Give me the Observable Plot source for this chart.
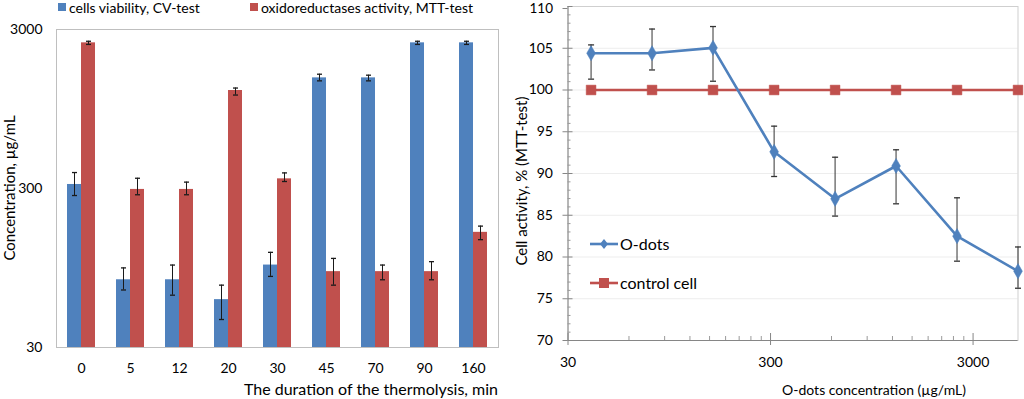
<!DOCTYPE html>
<html>
<head>
<meta charset="utf-8">
<script src="https://cdn.jsdelivr.net/npm/d3@7"></script>
<script src="https://cdn.jsdelivr.net/npm/@observablehq/plot@0.6"></script>
<style>
  html, body { margin: 0; padding: 0; background: #fff; }
  #root { position: relative; width: 1024px; height: 399px; overflow: hidden; font-family: Lato, "Open Sans", sans-serif; color: #000; }
  #root svg { position: absolute; top: 0; }
  .t { position: absolute; white-space: nowrap; line-height: 1.15; }
  .sw { position: absolute; }
</style>
</head>
<body>
<div id="root"></div>
<script>
// ---------- Left chart data ----------
const categories = ["0", "5", "12", "20", "30", "45", "70", "90", "160"];
const cvValues = [318, 80, 80, 60, 99, 1489, 1489, 2473, 2473];
const cvLow    = [271, 69, 64, 45, 84, 1426, 1426, 2417, 2417];
const cvHigh   = [378, 95, 99, 74, 119, 1570, 1548, 2530, 2530];
const mttValues = [2473, 296, 296, 1240, 345, 90, 90, 90, 159];
const mttLow    = [2417, 274, 274, 1161, 332, 74, 80, 80, 143];
const mttHigh   = [2530, 348, 329, 1285, 376, 109, 99, 104, 174];
const leftTicks = [30, 300, 3000];
const leftDomain = [30, 3000];

// ---------- Right chart data ----------
const concentrations = [39, 78, 156, 312.5, 625, 1250, 2500, 5000];
const oDots     = [104.4, 104.4, 105.05, 92.6, 86.97, 90.9, 82.5, 78.3];
const oDotsHigh = [105.4, 107.3, 107.6, 95.67, 91.95, 92.84, 87.09, 81.2];
const oDotsLow  = [101.3, 102.4, 101.05, 89.64, 84.9, 86.37, 79.5, 76.26];
const control   = [100, 100, 100, 100, 100, 100, 100, 100];
const rightXDomain = [30, 5000];
const rightXTicks = [30, 300, 3000];
const rightXMinor = [60, 90, 120, 150, 180, 210, 240, 270, 600, 900, 1200, 1500, 1800, 2100, 2400, 2700];
const rightYDomain = [70, 110];
const rightYTicks = [70, 75, 80, 85, 90, 95, 100, 105, 110];
const rightYMinor = d3.range(71, 110).filter(v => v % 5 !== 0);

const BLUE = "#4F81BD", RED = "#C0504D";

// horizontal cap symbol for error bars
const capSymbol = {
  draw(context, size) {
    const h = Math.sqrt(size / Math.PI);
    context.moveTo(-h, 0);
    context.lineTo(h, 0);
  }
};

const root = document.getElementById("root");

// ---------- Left chart ----------
const barRows = categories.map((c, i) => ({
  cat: c, cv: cvValues[i], cvLo: cvLow[i], cvHi: cvHigh[i],
  mtt: mttValues[i], mttLo: mttLow[i], mttHi: mttHigh[i]
}));
const baseline = leftDomain[0];

const left = Plot.plot({
  width: 512, height: 399,
  marginTop: 29, marginBottom: 52, marginLeft: 56, marginRight: 14,
  style: { fontFamily: "Lato, sans-serif", fontSize: "14px", color: "#000", background: "transparent", overflow: "visible" },
  x: { type: "band", domain: categories, paddingInner: 0.43, paddingOuter: 0.2, label: null },
  y: { type: "log", domain: leftDomain, label: null },
  marks: [
    Plot.frame({ stroke: "#BFBFBF" }),
    Plot.barY(barRows, { x: "cat", y1: baseline, y2: "cv", fill: BLUE, insetRight: 14 }),
    Plot.barY(barRows, { x: "cat", y1: baseline, y2: "mtt", fill: RED, insetLeft: 14 }),
    Plot.ruleX(barRows, { x: "cat", y1: "cvLo", y2: "cvHi", dx: -7, stroke: "#1a1a1a", strokeWidth: 1 }),
    Plot.dot(barRows, { x: "cat", y: "cvLo", dx: -7, symbol: capSymbol, r: 2.5, stroke: "#1a1a1a", fill: "none", strokeWidth: 1.3 }),
    Plot.dot(barRows, { x: "cat", y: "cvHi", dx: -7, symbol: capSymbol, r: 2.5, stroke: "#1a1a1a", fill: "none", strokeWidth: 1.3 }),
    Plot.ruleX(barRows, { x: "cat", y1: "mttLo", y2: "mttHi", dx: 7, stroke: "#1a1a1a", strokeWidth: 1 }),
    Plot.dot(barRows, { x: "cat", y: "mttLo", dx: 7, symbol: capSymbol, r: 2.5, stroke: "#1a1a1a", fill: "none", strokeWidth: 1.3 }),
    Plot.dot(barRows, { x: "cat", y: "mttHi", dx: 7, symbol: capSymbol, r: 2.5, stroke: "#1a1a1a", fill: "none", strokeWidth: 1.3 }),
    Plot.axisY({ ticks: leftTicks, tickSize: 0, tickPadding: 14, tickFormat: d => String(d), label: null, fontSize: 14 }),
    Plot.axisX({ tickSize: 0, tickPadding: 16, label: null, fontSize: 14 })
  ]
});
left.style.left = "0px";
root.appendChild(left);

// ---------- Right chart ----------
const lineRows = concentrations.map((c, i) => ({
  conc: c, od: oDots[i], odLo: oDotsLow[i], odHi: oDotsHigh[i], ctl: control[i]
}));

const right = Plot.plot({
  width: 512, height: 399,
  marginTop: 6, marginBottom: 59, marginLeft: 55.5, marginRight: 6.5,
  style: { fontFamily: "Lato, sans-serif", fontSize: "14px", color: "#000", background: "transparent", overflow: "visible" },
  x: { type: "log", domain: rightXDomain, label: null },
  y: { domain: rightYDomain, label: null },
  marks: [
    Plot.gridY({ ticks: rightYTicks, stroke: "#EDEDED", strokeOpacity: 1 }),
    Plot.frame({ stroke: "#CFCFCF" }),
    Plot.ruleX([rightXDomain[0]], { stroke: "#868686" }),
    Plot.ruleY([rightYDomain[0]], { stroke: "#868686" }),
    Plot.axisY({ ticks: rightYMinor, tickSize: -3, tickFormat: () => "", stroke: "#9a9a9a", label: null }),
    Plot.axisY({ ticks: rightYTicks, tickSize: -5, tickFormat: () => "", stroke: "#868686", label: null }),
    Plot.axisY({ ticks: rightYTicks.slice(0, -1), tickSize: 5, tickPadding: 10, tickFormat: d => String(d), stroke: "#868686", label: null, fontSize: 14 }),
    Plot.axisY({ ticks: rightYTicks.slice(-1), tickSize: 5, tickPadding: 10, tickFormat: d => String(d), stroke: "#868686", label: null, fontSize: 13.5, dy: 2 }),
    Plot.axisX({ ticks: rightXMinor, tickSize: -4, tickFormat: () => "", stroke: "#9a9a9a", label: null }),
    Plot.axisX({ ticks: rightXTicks, tickSize: -7, tickFormat: () => "", stroke: "#868686", label: null }),
    Plot.axisX({ ticks: rightXTicks, tickSize: 5, tickPadding: 12, tickFormat: d => String(d), stroke: "#868686", label: null, fontSize: 14 }),
    // control line
    Plot.line(lineRows, { x: "conc", y: "ctl", stroke: RED, strokeWidth: 2.6 }),
    Plot.dot(lineRows, { x: "conc", y: "ctl", symbol: "square", r: 5.5, fill: RED, stroke: RED, strokeWidth: 0.5 }),
    // O-dots error bars
    Plot.ruleX(lineRows, { x: "conc", y1: "odLo", y2: "odHi", stroke: "#333", strokeWidth: 1 }),
    Plot.dot(lineRows, { x: "conc", y: "odLo", symbol: capSymbol, r: 3, stroke: "#333", fill: "none", strokeWidth: 1.3 }),
    Plot.dot(lineRows, { x: "conc", y: "odHi", symbol: capSymbol, r: 3, stroke: "#333", fill: "none", strokeWidth: 1.3 }),
    // O-dots line
    Plot.line(lineRows, { x: "conc", y: "od", stroke: BLUE, strokeWidth: 2.6 }),
    Plot.dot(lineRows, { x: "conc", y: "od", symbol: "diamond", r: 4.6, fill: BLUE, stroke: BLUE, strokeWidth: 0.5 })
  ]
});
right.style.left = "512px";
root.appendChild(right);

// ---------- Titles & legends (HTML text) ----------
function addText(txt, css) {
  const d = document.createElement("div");
  d.className = "t";
  d.textContent = txt;
  Object.assign(d.style, css);
  root.appendChild(d);
  return d;
}
function addSwatch(html, css) {
  const d = document.createElement("div");
  d.className = "sw";
  d.innerHTML = html;
  Object.assign(d.style, css);
  root.appendChild(d);
}

// left legend
addSwatch(`<svg width="8" height="8"><rect width="8" height="8" fill="${BLUE}"/></svg>`, { left: "58px", top: "3px" });
addText("cells viability, CV-test", { left: "69px", top: "0px", fontSize: "14px" });
addSwatch(`<svg width="8" height="8"><rect width="8" height="8" fill="${RED}"/></svg>`, { left: "250px", top: "3px" });
addText("oxidoreductases activity, MTT-test", { left: "261px", top: "0px", fontSize: "14px" });

// left axis titles
addText("The duration of the thermolysis, min", { right: (1024 - 498) + "px", top: "380px", fontSize: "16px" });
const ly = addText("Concentration, µg/mL", { left: "10px", top: "188px", fontSize: "15px" });
ly.style.transform = "translate(-50%, -50%) rotate(-90deg)";

// right axis titles
addText("O-dots concentration (µg/mL)", { left: "874px", top: "382px", fontSize: "14px" });
root.lastChild.style.transform = "translateX(-50%)";
const ry = addText("Cell activity, % (MTT-test)", { left: "522px", top: "181px", fontSize: "15px" });
ry.style.transform = "translate(-50%, -50%) rotate(-90deg)";

// right legend
addSwatch(`<svg width="30" height="12"><line x1="0" x2="28" y1="6" y2="6" stroke="${BLUE}" stroke-width="2.6"/><path d="M14,1 L18,6 L14,11 L10,6 Z" fill="${BLUE}"/></svg>`, { left: "590px", top: "238px" });
addText("O-dots", { left: "620px", top: "235px", fontSize: "16px" });
addSwatch(`<svg width="30" height="12"><line x1="0" x2="28" y1="6" y2="6" stroke="${RED}" stroke-width="2.6"/><rect x="9" y="1" width="10" height="10" fill="${RED}"/></svg>`, { left: "590px", top: "277px" });
addText("control cell", { left: "620px", top: "274px", fontSize: "16px" });
</script>
</body>
</html>
